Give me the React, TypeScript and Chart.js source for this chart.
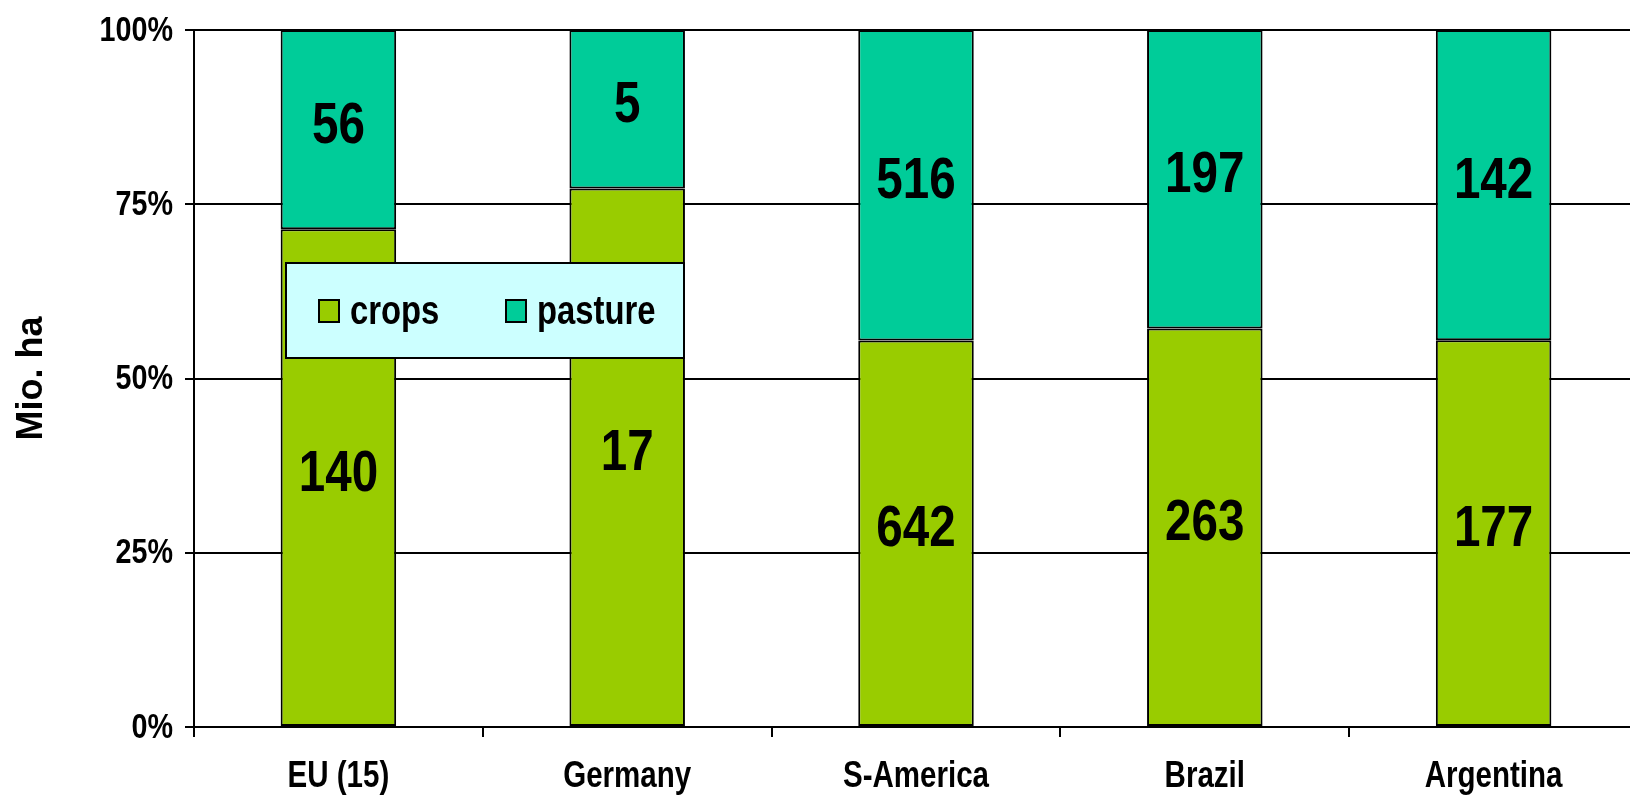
import { useEffect, useRef } from 'react';
import { Chart, registerables } from 'chart.js';

Chart.register(...registerables);

const categories = ['EU (15)', 'Germany', 'S-America', 'Brazil', 'Argentina'];
const crops = [140, 17, 642, 263, 177];
const pasture = [56, 5, 516, 197, 142];
const seriesNames = ['crops', 'pasture'];
const seriesColors = ['#99CC00', '#00CC99'];
const yTickValues = [0, 25, 50, 75, 100];
const yTitle = 'Mio. ha';

const SANS = "'Liberation Sans', Arial, sans-serif";
const SQUEEZE = 0.82;

const rawSeries = [crops, pasture];
const totals = crops.map((c, i) => c + pasture[i]);
const pctSeries = rawSeries.map((s) => s.map((v, i) => (v / totals[i]) * 100));

function drawCondensed(
  ctx: CanvasRenderingContext2D,
  text: string,
  x: number,
  y: number,
  size: number,
  align: CanvasTextAlign,
  baseline: CanvasTextBaseline
) {
  ctx.save();
  ctx.font = `bold ${size}px ${SANS}`;
  ctx.fillStyle = '#000';
  ctx.textAlign = align;
  ctx.textBaseline = baseline;
  ctx.translate(x, y);
  ctx.scale(SQUEEZE, 1);
  ctx.fillText(text, 0, 0);
  ctx.restore();
}

const valueLabelPlugin = {
  id: 'valueLabels',
  afterDatasetsDraw(chart: any) {
    const ctx = chart.ctx;
    chart.data.datasets.forEach((_ds: any, di: number) => {
      const meta = chart.getDatasetMeta(di);
      meta.data.forEach((el: any, i: number) => {
        const y = (el.y + el.base) / 2 - 3;
        drawCondensed(ctx, String(rawSeries[di][i]), el.x, y, 58, 'center', 'middle');
      });
    });
  },
};

const axisLabelPlugin = {
  id: 'axisLabels',
  afterDraw(chart: any) {
    const ctx = chart.ctx;
    const ys = chart.scales.y;
    ys.ticks.forEach((t: any, i: number) => {
      const py = ys.getPixelForTick(i);
      drawCondensed(ctx, `${t.value}%`, ys.right - 9 - 12, py + 1, 35, 'right', 'middle');
    });
    const xs = chart.scales.x;
    xs.ticks.forEach((_t: any, i: number) => {
      const px = xs.getPixelForTick(i);
      drawCondensed(ctx, String(chart.data.labels[i]), px, xs.top + 50, 36, 'center', 'middle');
    });
  },
};

const boxLegendPlugin = {
  id: 'boxLegend',
  afterDraw(chart: any) {
    const ctx = chart.ctx;
    const x0 = 286, y0 = 263, w = 398, h = 95;
    ctx.save();
    ctx.fillStyle = '#CCFFFF';
    ctx.fillRect(x0, y0, w, h);
    ctx.strokeStyle = '#000';
    ctx.lineWidth = 2;
    ctx.strokeRect(x0, y0, w, h);
    const squareX = [319, 506];
    const textX = [350, 537];
    chart.data.datasets.forEach((ds: any, i: number) => {
      ctx.fillStyle = ds.backgroundColor;
      ctx.fillRect(squareX[i], 300, 20, 22);
      ctx.strokeStyle = '#000';
      ctx.lineWidth = 2;
      ctx.strokeRect(squareX[i], 300, 20, 22);
      drawCondensed(ctx, ds.label, textX[i], 324, 40, 'left', 'alphabetic');
    });
    ctx.restore();
  },
};

export default function App() {
  const ref = useRef<HTMLCanvasElement | null>(null);

  useEffect(() => {
    if (!ref.current) return;
    const chart = new Chart(ref.current, {
      type: 'bar',
      data: {
        labels: categories,
        datasets: pctSeries.map((s, i) => ({
          label: seriesNames[i],
          data: s,
          backgroundColor: seriesColors[i],
          borderColor: '#000',
          borderWidth: 2,
          borderSkipped: false,
          barPercentage: 0.4,
          categoryPercentage: 1,
        })),
      },
      options: {
        animation: false,
        responsive: true,
        maintainAspectRatio: false,
        layout: { padding: { top: 26, right: 0, bottom: 0, left: 0 } },
        plugins: {
          legend: { display: false },
          tooltip: { enabled: false },
        },
        scales: {
          x: {
            stacked: true,
            offset: true,
            grid: {
              display: true,
              drawOnChartArea: false,
              drawTicks: true,
              tickLength: 10,
              color: '#000',
              lineWidth: 2,
              offset: true,
            },
            border: { display: true, color: '#000', width: 2 },
            ticks: {
              color: 'rgba(0,0,0,0)',
              padding: 18,
              font: { family: SANS, size: 30, weight: 'bold' },
              maxRotation: 0,
              autoSkip: false,
            },
            afterFit: (scale: any) => {
              scale.height = 73;
            },
          },
          y: {
            stacked: true,
            min: 0,
            max: 100,
            afterBuildTicks: (scale: any) => {
              scale.ticks = yTickValues.map((v) => ({ value: v }));
            },
            grid: {
              color: '#000',
              lineWidth: 2,
              tickLength: 9,
              drawTicks: true,
            },
            border: { display: true, color: '#000', width: 2 },
            ticks: {
              color: 'rgba(0,0,0,0)',
              padding: 12,
              font: { family: SANS, size: 30, weight: 'bold' },
              callback: (v: any) => `${v}%`,
            },
            title: {
              display: true,
              text: yTitle,
              color: '#000',
              font: { family: SANS, size: 36, weight: 'bold' },
              padding: { top: 10, bottom: 0 },
            },
            afterFit: (scale: any) => {
              scale.width = 194;
            },
          },
        },
      } as any,
      plugins: [valueLabelPlugin, axisLabelPlugin, boxLegendPlugin],
    });
    return () => chart.destroy();
  }, []);

  return (
    <div
      style={{
        position: 'fixed',
        left: 0,
        top: 0,
        width: 1630,
        height: 800,
        overflow: 'hidden',
        background: '#fff',
      }}
    >
      <div style={{ position: 'relative', width: 1638, height: 800 }}>
        <canvas ref={ref} />
      </div>
    </div>
  );
}
